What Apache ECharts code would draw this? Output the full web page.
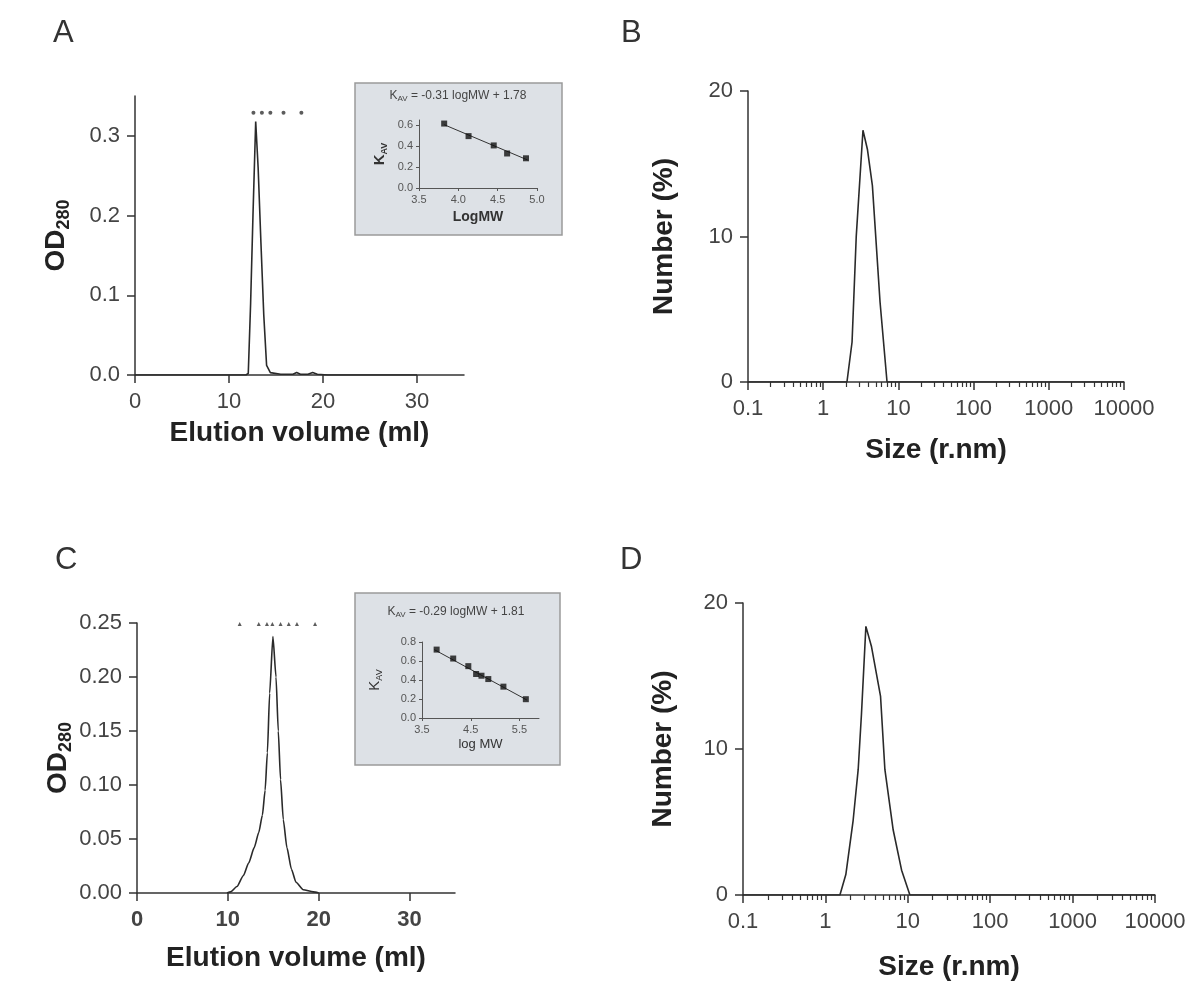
<!DOCTYPE html>
<html><head><meta charset="utf-8">
<script src="https://cdn.jsdelivr.net/npm/echarts@6/dist/echarts.min.js"></script>
<style>html,body{margin:0;padding:0;background:#fff}#c{width:1194px;height:984px}</style>
</head><body><div id="c"></div>
<script>
// ---- Panel A: gel filtration profile ----
const elutionA = [0, 6, 11.8, 12.05, 12.3, 12.55, 12.84, 13.1, 13.4, 13.7, 14.0, 14.4, 15.5, 16.8, 17.2, 17.6, 18.4, 18.9, 19.4, 20.5, 30];
const odA      = [0, 0, 0, 0.002, 0.09, 0.2, 0.318, 0.26, 0.165, 0.075, 0.012, 0.003, 0.001, 0.001, 0.003, 0.001, 0.001, 0.003, 0.001, 0, 0];
const standardsA = [12.6, 13.5, 14.4, 15.8, 17.7];
const standardsLevelA = 0.329;
const odTicksA = [0, 0.1, 0.2, 0.3];
// inset A calibration
const insetA_logMW = [3.82, 4.13, 4.45, 4.62, 4.86];
const insetA_kav   = [0.616, 0.496, 0.407, 0.33, 0.284];
const fitA_logMW = [3.82, 4.88];
const fitA_kav   = [0.605, 0.268];
const kavTicksA = [0, 0.2, 0.4, 0.6];
const logMWTicksA = [3.5, 4.0, 4.5, 5.0];

// ---- Panel B: DLS ----
const sizeB   = [0.1, 2.07, 2.42, 2.75, 3.38, 3.87, 4.51, 5.7, 7.06, 10000];
const numberB = [0, 0, 2.75, 10, 17.3, 16.0, 13.5, 5.5, 0, 0];

// ---- Panel C: gel filtration profile ----
const elutionC = [9.9, 10.3, 11.0, 11.7, 12.3, 12.9, 13.4, 13.8, 14.1, 14.35, 14.6, 14.96, 15.3, 15.55, 15.8, 16.1, 16.5, 17.0, 17.5, 18.3, 19.4, 20.0];
const odC      = [0, 0.001, 0.006, 0.016, 0.028, 0.042, 0.056, 0.072, 0.095, 0.13, 0.185, 0.2375, 0.2, 0.15, 0.105, 0.068, 0.042, 0.022, 0.01, 0.003, 0.001, 0];
const standardsC = [11.3, 13.4, 14.3, 14.9, 15.8, 16.7, 17.6, 19.6];
const standardsLevelC = 0.249;
const odTicksC = [0, 0.05, 0.1, 0.15, 0.2, 0.25];
// inset C calibration
const insetC_logMW = [3.80, 4.14, 4.45, 4.61, 4.72, 4.86, 5.17, 5.63];
const insetC_kav   = [0.72, 0.626, 0.546, 0.463, 0.445, 0.41, 0.33, 0.198];
const fitC_logMW = [3.75, 5.65];
const fitC_kav   = [0.72, 0.19];
const kavTicksC = [0, 0.2, 0.4, 0.6, 0.8];
const logMWTicksC = [3.5, 4.5, 5.5];

// ---- Panel D: DLS ----
const sizeD   = [0.1, 1.5, 1.77, 2.17, 2.5, 2.74, 3.1, 3.63, 4.67, 5.27, 6.65, 8.41, 10.6, 10000];
const numberD = [0, 0, 1.4, 5.1, 8.6, 12.4, 18.4, 17.0, 13.6, 8.6, 4.45, 1.7, 0, 0];

// tick lists
const elutionTicks = [0, 10, 20, 30];
const numberTicks = [0, 10, 20];
const logDecades = [0.1, 1, 10, 100, 1000];
const logMinorMult = [2, 3, 4, 5, 6, 7, 8, 9];
const minorSizeTicks = [];
logDecades.forEach(d => logMinorMult.forEach(m => minorSizeTicks.push(+(d * m).toPrecision(4))));

const zip = (a, b) => a.map((v, i) => [v, b[i]]);
const FONT = 'Liberation Sans, Arial, Helvetica, sans-serif';
const INK = '#2a2a2a';
const AXIS = '#333';
const LBL = '#444';

function mainY(grid, min, max, ticks, digits, name, gap, rich) {
  return {
    gridIndex: grid, type: 'value', min, max,
    axisLine: { show: true, lineStyle: { color: AXIS, width: 1.5 } },
    axisTick: { show: true, length: 8, customValues: ticks, lineStyle: { color: AXIS, width: 1.5 } },
    splitLine: { show: false },
    axisLabel: { color: LBL, fontSize: 22, fontFamily: FONT, margin: 15, customValues: ticks,
      formatter: v => digits >= 0 ? Number(v).toFixed(digits) : String(v) },
    name, nameLocation: 'middle', nameGap: gap,
    nameTextStyle: rich ? { rich, fontFamily: FONT } : { color: '#222', fontSize: 28, fontWeight: 'bold', fontFamily: FONT }
  };
}
function mainXValue(grid, bold, gap) {
  return {
    gridIndex: grid, type: 'value', min: 0, max: 35, position: 'bottom',
    axisLine: { show: true, onZero: false, lineStyle: { color: AXIS, width: 1.5 } },
    axisTick: { show: true, length: 8, customValues: elutionTicks, lineStyle: { color: AXIS, width: 1.5 } },
    splitLine: { show: false },
    axisLabel: { color: LBL, fontSize: 22, fontFamily: FONT, margin: 16, fontWeight: bold ? 'bold' : 'normal',
      customValues: elutionTicks },
    name: 'Elution volume (ml)', nameLocation: 'middle', nameGap: gap,
    nameTextStyle: { color: '#222', fontSize: 28, fontWeight: 'bold', fontFamily: FONT }
  };
}
function logX(grid, gap) {
  return {
    gridIndex: grid, type: 'log', logBase: 10, min: 0.1, max: 10000, position: 'bottom',
    axisLine: { show: true, onZero: false, lineStyle: { color: AXIS, width: 1.5 } },
    axisTick: { show: true, length: 8, lineStyle: { color: AXIS, width: 1.5 } },
    splitLine: { show: false },
    axisLabel: { color: LBL, fontSize: 22, fontFamily: FONT, margin: 16,
      formatter: v => String(+Number(v).toPrecision(6)) },
    name: 'Size (r.nm)', nameLocation: 'middle', nameGap: gap,
    nameTextStyle: { color: '#222', fontSize: 28, fontWeight: 'bold', fontFamily: FONT }
  };
}
function logXMinor(grid) {
  return {
    gridIndex: grid, type: 'log', logBase: 10, min: 0.1, max: 10000, position: 'bottom',
    axisLine: { show: false },
    axisTick: { show: true, length: 5, customValues: minorSizeTicks, lineStyle: { color: AXIS, width: 1.2 } },
    axisLabel: { show: false },
    splitLine: { show: false }
  };
}
function insetX(grid, min, max, ticks, name, bold, gap) {
  return {
    gridIndex: grid, type: 'value', min, max, position: 'bottom', z: 5,
    axisLine: { show: true, onZero: false, lineStyle: { color: '#555', width: 1 } },
    axisTick: { show: true, length: 3, customValues: ticks, lineStyle: { color: '#555' } },
    splitLine: { show: false },
    axisLabel: { color: '#555', fontSize: 11, fontFamily: FONT, margin: 6, customValues: ticks,
      formatter: v => Number(v).toFixed(1) },
    name, nameLocation: 'middle', nameGap: gap,
    nameTextStyle: { color: '#333', fontSize: bold ? 14 : 13, fontWeight: bold ? 'bold' : 'normal', fontFamily: FONT }
  };
}
function insetY(grid, max, ticks, bold, gap) {
  return {
    gridIndex: grid, type: 'value', min: 0, max, z: 5,
    axisLine: { show: true, lineStyle: { color: '#555', width: 1 } },
    axisTick: { show: true, length: 3, customValues: ticks, lineStyle: { color: '#555' } },
    splitLine: { show: false },
    axisLabel: { color: '#555', fontSize: 11, fontFamily: FONT, margin: 6, customValues: ticks,
      formatter: v => Number(v).toFixed(1) },
    name: '{k|K}{s|AV}', nameLocation: 'middle', nameGap: gap,
    nameTextStyle: { fontFamily: FONT, rich: {
      k: { fontSize: 15, fontWeight: bold ? 'bold' : 'normal', color: '#333', lineHeight: 18, fontFamily: FONT },
      s: { fontSize: 9, fontWeight: bold ? 'bold' : 'normal', color: '#333', lineHeight: 10, verticalAlign: 'bottom', fontFamily: FONT }
    } }
  };
}
const odRich = {
  a: { fontSize: 28, fontWeight: 'bold', color: '#222', lineHeight: 34, fontFamily: FONT },
  b: { fontSize: 18, fontWeight: 'bold', color: '#222', lineHeight: 18, verticalAlign: 'bottom', fontFamily: FONT }
};
const titleRich = {
  k: { fontSize: 12, fill: '#444', fontFamily: FONT, lineHeight: 14 },
  s: { fontSize: 8, fill: '#444', fontFamily: FONT, lineHeight: 8, verticalAlign: 'bottom' },
  t: { fontSize: 12, fill: '#444', fontFamily: FONT, lineHeight: 14 }
};

const chart = echarts.init(document.getElementById('c'), null, { renderer: 'canvas' });
chart.setOption({
  animation: false,
  backgroundColor: '#fff',
  grid: [
    { left: 135, top: 96, width: 329, height: 279 },   // A
    { left: 748, top: 91, width: 376, height: 291 },   // B
    { left: 137, top: 623, width: 318, height: 270 },  // C
    { left: 743, top: 603, width: 412, height: 292 },  // D
    { left: 419, top: 120, width: 118, height: 68 },   // inset A
    { left: 422, top: 642, width: 117, height: 76 }    // inset C
  ],
  xAxis: [
    mainXValue(0, false, 44),
    logX(1, 54),
    logXMinor(1),
    mainXValue(2, true, 51),
    logX(3, 58),
    logXMinor(3),
    insetX(4, 3.5, 5.0, logMWTicksA, 'LogMW', true, 22),
    insetX(5, 3.5, 5.9, logMWTicksC, 'log MW', false, 20)
  ],
  yAxis: [
    mainY(0, 0, 0.35, odTicksA, 1, '{a|OD}{b|280}', 62, odRich),
    mainY(1, 0, 20, numberTicks, -1, 'Number (%)', 70),
    mainY(2, 0, 0.25, odTicksC, 2, '{a|OD}{b|280}', 62, odRich),
    mainY(3, 0, 20, numberTicks, -1, 'Number (%)', 66),
    insetY(4, 0.65, kavTicksA, true, 30),
    insetY(5, 0.8, kavTicksC, false, 38)
  ],
  graphic: [
    { type: 'text', left: 53, top: 18, style: { text: 'A', fontSize: 31, fontFamily: FONT, fill: '#333' } },
    { type: 'text', left: 621, top: 18, style: { text: 'B', fontSize: 31, fontFamily: FONT, fill: '#333' } },
    { type: 'text', left: 55, top: 545, style: { text: 'C', fontSize: 31, fontFamily: FONT, fill: '#333' } },
    { type: 'text', left: 620, top: 545, style: { text: 'D', fontSize: 31, fontFamily: FONT, fill: '#333' } },
    { type: 'rect', z: 1, shape: { x: 355, y: 83, width: 207, height: 152 },
      style: { fill: '#dde1e6', stroke: '#9a9a9a', lineWidth: 1.5 } },
    { type: 'rect', z: 1, shape: { x: 355, y: 593, width: 205, height: 172 },
      style: { fill: '#dde1e6', stroke: '#9a9a9a', lineWidth: 1.5 } },
    { type: 'text', z: 6, x: 458, y: 96, style: {
      text: '{k|K}{s|AV}{t| = -0.31 logMW + 1.78}', align: 'center', verticalAlign: 'middle', rich: titleRich } },
    { type: 'text', z: 6, x: 456, y: 612, style: {
      text: '{k|K}{s|AV}{t| = -0.29 logMW + 1.81}', align: 'center', verticalAlign: 'middle', rich: titleRich } }
  ],
  series: [
    { type: 'line', xAxisIndex: 0, yAxisIndex: 0, data: zip(elutionA, odA), showSymbol: false,
      lineStyle: { color: INK, width: 1.6 } },
    { type: 'scatter', xAxisIndex: 0, yAxisIndex: 0, data: standardsA.map(x => [x, standardsLevelA]),
      symbol: 'circle', symbolSize: 4, itemStyle: { color: '#333' } },
    { type: 'line', xAxisIndex: 1, yAxisIndex: 1, data: zip(sizeB, numberB), showSymbol: false,
      lineStyle: { color: INK, width: 1.6 } },
    { type: 'line', xAxisIndex: 3, yAxisIndex: 2, data: zip(elutionC, odC), showSymbol: false,
      smooth: 0.2, smoothMonotone: 'x', lineStyle: { color: INK, width: 1.6 } },
    { type: 'scatter', xAxisIndex: 3, yAxisIndex: 2, data: standardsC.map(x => [x, standardsLevelC]),
      symbol: 'triangle', symbolSize: 4, itemStyle: { color: '#333' } },
    { type: 'line', xAxisIndex: 4, yAxisIndex: 3, data: zip(sizeD, numberD), showSymbol: false,
      lineStyle: { color: INK, width: 1.6 } },
    { type: 'line', xAxisIndex: 6, yAxisIndex: 4, z: 6, data: zip(fitA_logMW, fitA_kav), showSymbol: false,
      lineStyle: { color: '#333', width: 1 } },
    { type: 'scatter', xAxisIndex: 6, yAxisIndex: 4, z: 7, data: zip(insetA_logMW, insetA_kav),
      symbol: 'rect', symbolSize: 6, itemStyle: { color: '#111' } },
    { type: 'line', xAxisIndex: 7, yAxisIndex: 5, z: 6, data: zip(fitC_logMW, fitC_kav), showSymbol: false,
      lineStyle: { color: '#333', width: 1 } },
    { type: 'scatter', xAxisIndex: 7, yAxisIndex: 5, z: 7, data: zip(insetC_logMW, insetC_kav),
      symbol: 'rect', symbolSize: 6, itemStyle: { color: '#111' } }
  ]
});
</script>
</body></html>
